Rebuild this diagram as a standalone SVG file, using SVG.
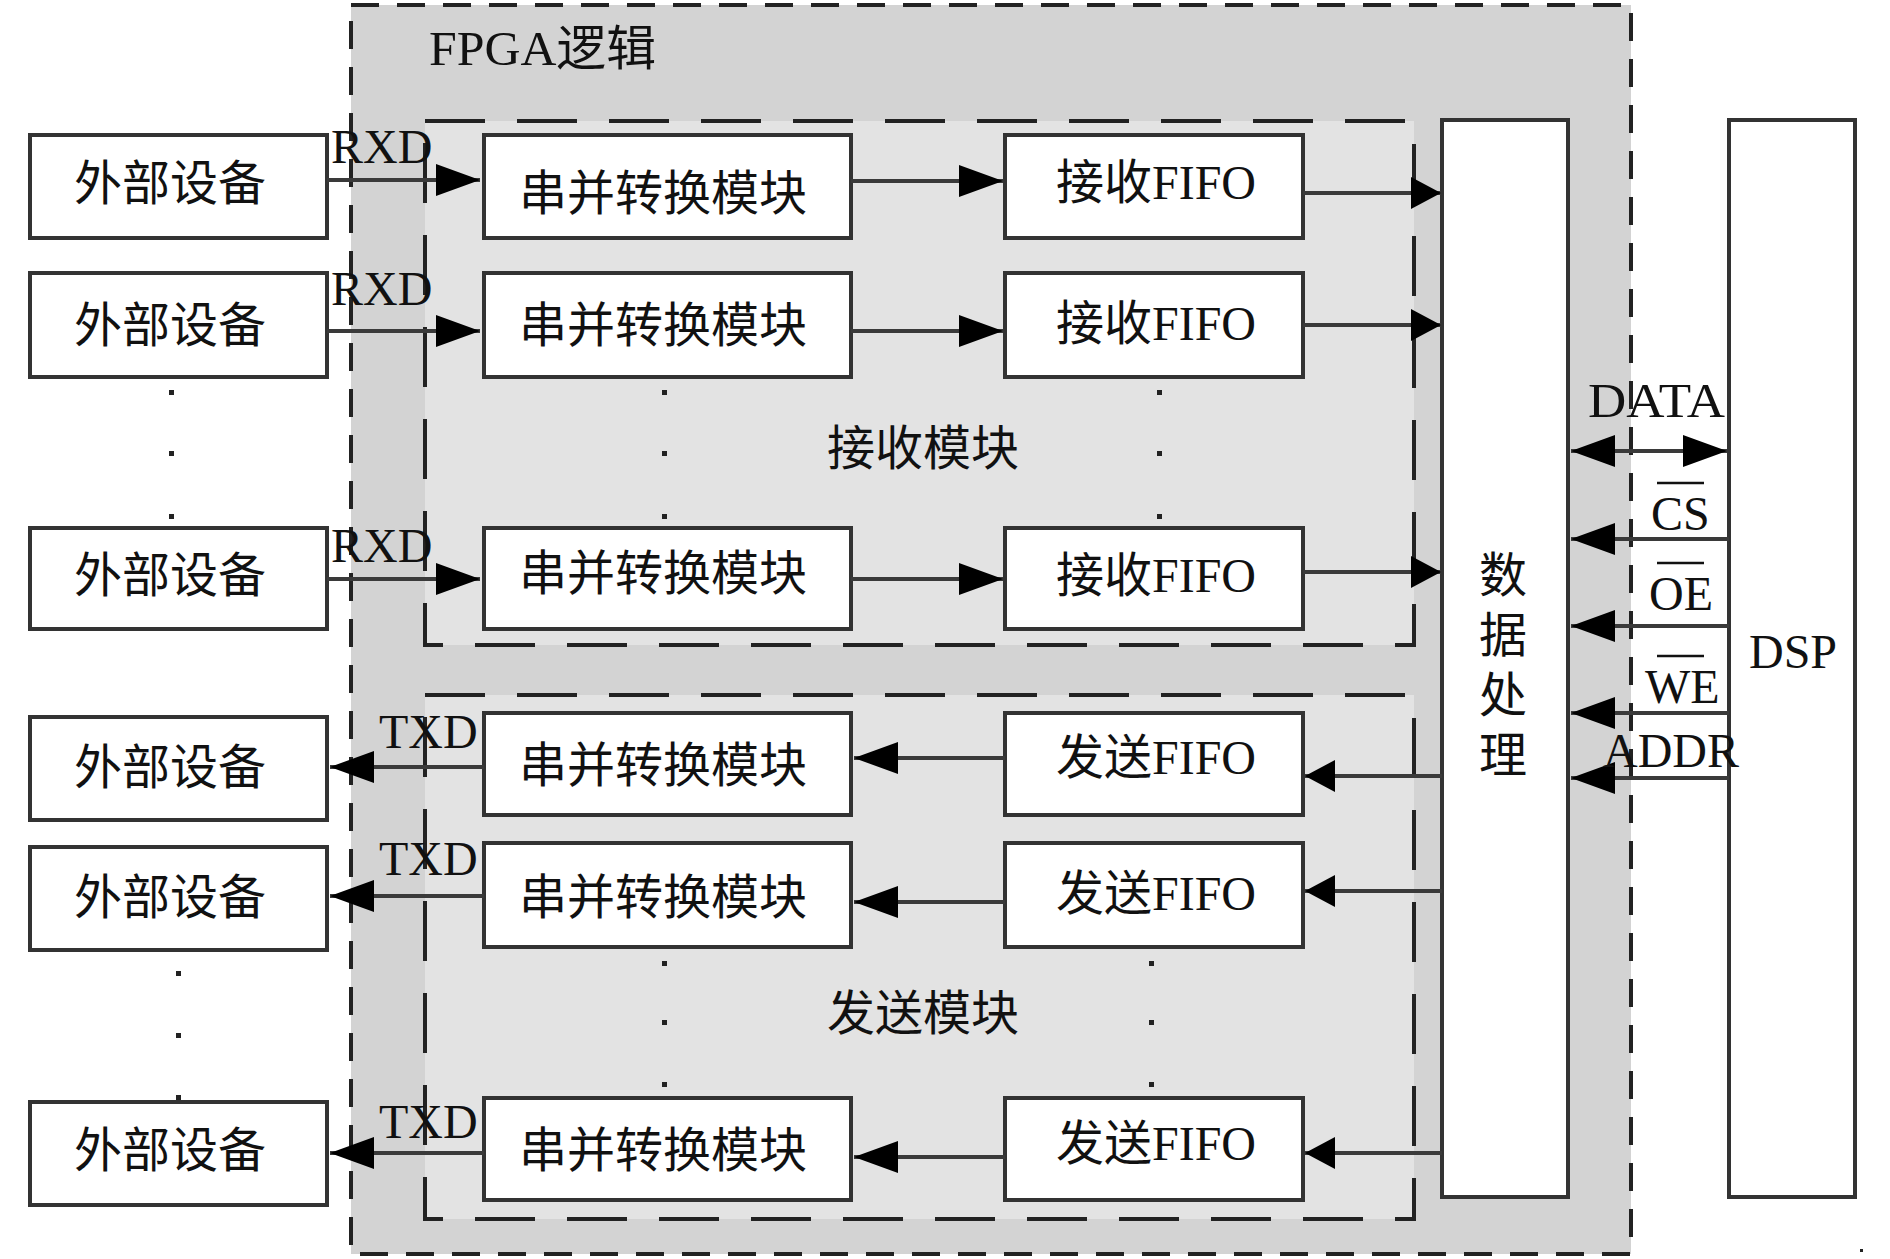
<svg xmlns="http://www.w3.org/2000/svg" width="1890" height="1259" viewBox="0 0 1890 1259">
<style>
.t{font-family:"Liberation Serif","Noto Sans CJK SC",serif;font-size:48px;fill:#111}
.m{text-anchor:middle}
.box{fill:#fff;stroke:#333;stroke-width:4}
.ln{stroke:#3a3a3a;stroke-width:4;fill:none}
.dot{fill:#222}
.ov{stroke:#111;stroke-width:2.5}
</style>
<defs>
<marker id="ahL" markerUnits="userSpaceOnUse" markerWidth="44" markerHeight="32" viewBox="0 0 44 32" refX="44" refY="16" orient="auto-start-reverse"><path d="M0,0 L44,16 L0,32 z" fill="#000"/></marker>
<marker id="ahS" markerUnits="userSpaceOnUse" markerWidth="30" markerHeight="32" viewBox="0 0 30 32" refX="30" refY="16" orient="auto"><path d="M0,0 L30,16 L0,32 z" fill="#000"/></marker>
</defs>
<rect width="1890" height="1259" fill="#fff"/>

<g id="fpga">
<rect x="351" y="5" width="1280" height="1249" fill="#d3d3d3" stroke="#222" stroke-width="4" stroke-dasharray="28 18"/>
<text class="t" x="429" y="65" textLength="227" lengthAdjust="spacingAndGlyphs">FPGA逻辑</text>
</g>
<g id="rx-module">
<rect x="425" y="121" width="989" height="524" fill="#e3e3e3" stroke="#222" stroke-width="4" stroke-dasharray="60 32"/>
<text class="t m" x="923" y="465">接收模块</text>
</g>
<g id="tx-module">
<rect x="425" y="695" width="989" height="524" fill="#e3e3e3" stroke="#222" stroke-width="4" stroke-dasharray="60 32"/>
<text class="t m" x="923" y="1030">发送模块</text>
</g>

<g id="dp">
<rect class="box" x="1442" y="120" width="126" height="1077" stroke="#444"/>
<text class="t m" x="1503" y="592">数</text>
<text class="t m" x="1503" y="652">据</text>
<text class="t m" x="1503" y="712">处</text>
<text class="t m" x="1503" y="772">理</text>
</g>
<g id="dsp">
<rect class="box" x="1729" y="120" width="126" height="1077" stroke="#222"/>
<text class="t m" x="1793" y="668">DSP</text>
</g>

<g id="ext1"><rect class="box" x="30" y="135" width="297" height="103"/><text class="t m" x="170" y="200">外部设备</text></g>
<g id="ext2"><rect class="box" x="30" y="273" width="297" height="104"/><text class="t m" x="170" y="342">外部设备</text></g>
<g id="ext3"><rect class="box" x="30" y="528" width="297" height="101"/><text class="t m" x="170" y="592">外部设备</text></g>
<g id="ext4"><rect class="box" x="30" y="717" width="297" height="103"/><text class="t m" x="170" y="784">外部设备</text></g>
<g id="ext5"><rect class="box" x="30" y="847" width="297" height="103"/><text class="t m" x="170" y="914">外部设备</text></g>
<g id="ext6"><rect class="box" x="30" y="1102" width="297" height="103"/><text class="t m" x="170" y="1167">外部设备</text></g>

<g id="sp1"><rect class="box" x="484" y="135" width="367" height="103"/><text class="t m" x="663" y="210">串并转换模块</text></g>
<g id="sp2"><rect class="box" x="484" y="273" width="367" height="104"/><text class="t m" x="663" y="342">串并转换模块</text></g>
<g id="sp3"><rect class="box" x="484" y="528" width="367" height="101"/><text class="t m" x="663" y="590">串并转换模块</text></g>
<g id="sp4"><rect class="box" x="484" y="713" width="367" height="102"/><text class="t m" x="663" y="782">串并转换模块</text></g>
<g id="sp5"><rect class="box" x="484" y="843" width="367" height="104"/><text class="t m" x="663" y="914">串并转换模块</text></g>
<g id="sp6"><rect class="box" x="484" y="1098" width="367" height="102"/><text class="t m" x="663" y="1167">串并转换模块</text></g>

<g id="rf1"><rect class="box" x="1005" y="135" width="298" height="103"/><text class="t m" x="1156" y="199">接收FIFO</text></g>
<g id="rf2"><rect class="box" x="1005" y="273" width="298" height="104"/><text class="t m" x="1156" y="340">接收FIFO</text></g>
<g id="rf3"><rect class="box" x="1005" y="528" width="298" height="101"/><text class="t m" x="1156" y="592">接收FIFO</text></g>
<g id="tf1"><rect class="box" x="1005" y="713" width="298" height="102"/><text class="t m" x="1156" y="774">发送FIFO</text></g>
<g id="tf2"><rect class="box" x="1005" y="843" width="298" height="104"/><text class="t m" x="1156" y="910">发送FIFO</text></g>
<g id="tf3"><rect class="box" x="1005" y="1098" width="298" height="102"/><text class="t m" x="1156" y="1160">发送FIFO</text></g>

<g id="dots">
<rect class="dot" x="169" y="390" width="5" height="5"/><rect class="dot" x="169" y="451" width="5" height="5"/><rect class="dot" x="169" y="514" width="5" height="5"/>
<rect class="dot" x="662" y="390" width="5" height="5"/><rect class="dot" x="662" y="451" width="5" height="5"/><rect class="dot" x="662" y="514" width="5" height="5"/>
<rect class="dot" x="1157" y="390" width="5" height="5"/><rect class="dot" x="1157" y="451" width="5" height="5"/><rect class="dot" x="1157" y="514" width="5" height="5"/>
<rect class="dot" x="176" y="971" width="5" height="5"/><rect class="dot" x="176" y="1033" width="5" height="5"/><rect class="dot" x="176" y="1095" width="5" height="5"/>
<rect class="dot" x="662" y="961" width="5" height="5"/><rect class="dot" x="662" y="1020" width="5" height="5"/><rect class="dot" x="662" y="1082" width="5" height="5"/>
<rect class="dot" x="1149" y="961" width="5" height="5"/><rect class="dot" x="1149" y="1020" width="5" height="5"/><rect class="dot" x="1149" y="1082" width="5" height="5"/>
<rect class="dot" x="1860" y="1249" width="3" height="3"/>
</g>

<g id="connectors">
<line class="ln" x1="327" y1="180" x2="480" y2="180" marker-end="url(#ahL)"/>
<line class="ln" x1="851" y1="181" x2="1003" y2="181" marker-end="url(#ahL)"/>
<line class="ln" x1="1303" y1="193" x2="1441" y2="193" marker-end="url(#ahS)"/>
<line class="ln" x1="327" y1="331" x2="480" y2="331" marker-end="url(#ahL)"/>
<line class="ln" x1="851" y1="331" x2="1003" y2="331" marker-end="url(#ahL)"/>
<line class="ln" x1="1303" y1="325" x2="1441" y2="325" marker-end="url(#ahS)"/>
<line class="ln" x1="327" y1="579" x2="480" y2="579" marker-end="url(#ahL)"/>
<line class="ln" x1="851" y1="579" x2="1003" y2="579" marker-end="url(#ahL)"/>
<line class="ln" x1="1303" y1="572" x2="1441" y2="572" marker-end="url(#ahS)"/>

<line class="ln" x1="1442" y1="776" x2="1305" y2="776" marker-end="url(#ahS)"/>
<line class="ln" x1="1005" y1="758" x2="854" y2="758" marker-end="url(#ahL)"/>
<line class="ln" x1="484" y1="767" x2="330" y2="767" marker-end="url(#ahL)"/>
<line class="ln" x1="1442" y1="891" x2="1305" y2="891" marker-end="url(#ahS)"/>
<line class="ln" x1="1005" y1="902" x2="854" y2="902" marker-end="url(#ahL)"/>
<line class="ln" x1="484" y1="896" x2="330" y2="896" marker-end="url(#ahL)"/>
<line class="ln" x1="1442" y1="1153" x2="1305" y2="1153" marker-end="url(#ahS)"/>
<line class="ln" x1="1005" y1="1157" x2="854" y2="1157" marker-end="url(#ahL)"/>
<line class="ln" x1="484" y1="1153" x2="330" y2="1153" marker-end="url(#ahL)"/>

<line class="ln" x1="1571" y1="451" x2="1727" y2="451" marker-start="url(#ahL)" marker-end="url(#ahL)"/>
<line class="ln" x1="1729" y1="539" x2="1571" y2="539" marker-end="url(#ahL)"/>
<line class="ln" x1="1729" y1="626" x2="1571" y2="626" marker-end="url(#ahL)"/>
<line class="ln" x1="1729" y1="713" x2="1571" y2="713" marker-end="url(#ahL)"/>
<line class="ln" x1="1729" y1="778" x2="1571" y2="778" marker-end="url(#ahL)"/>

<text class="t" x="331" y="163">RXD</text>
<text class="t" x="331" y="305">RXD</text>
<text class="t" x="331" y="562">RXD</text>
<text class="t" x="379" y="748">TXD</text>
<text class="t" x="379" y="875">TXD</text>
<text class="t" x="379" y="1138">TXD</text>

<text class="t" x="1588" y="417" textLength="137" lengthAdjust="spacingAndGlyphs">DATA</text>
<text class="t" x="1651" y="530">CS</text>
<line class="ov" x1="1657" y1="483" x2="1704" y2="483"/>
<text class="t" x="1649" y="610">OE</text>
<line class="ov" x1="1657" y1="563" x2="1704" y2="563"/>
<text class="t" x="1645" y="703">WE</text>
<line class="ov" x1="1657" y1="656" x2="1704" y2="656"/>
<text class="t" x="1603" y="767">ADDR</text>
</g>
</svg>
